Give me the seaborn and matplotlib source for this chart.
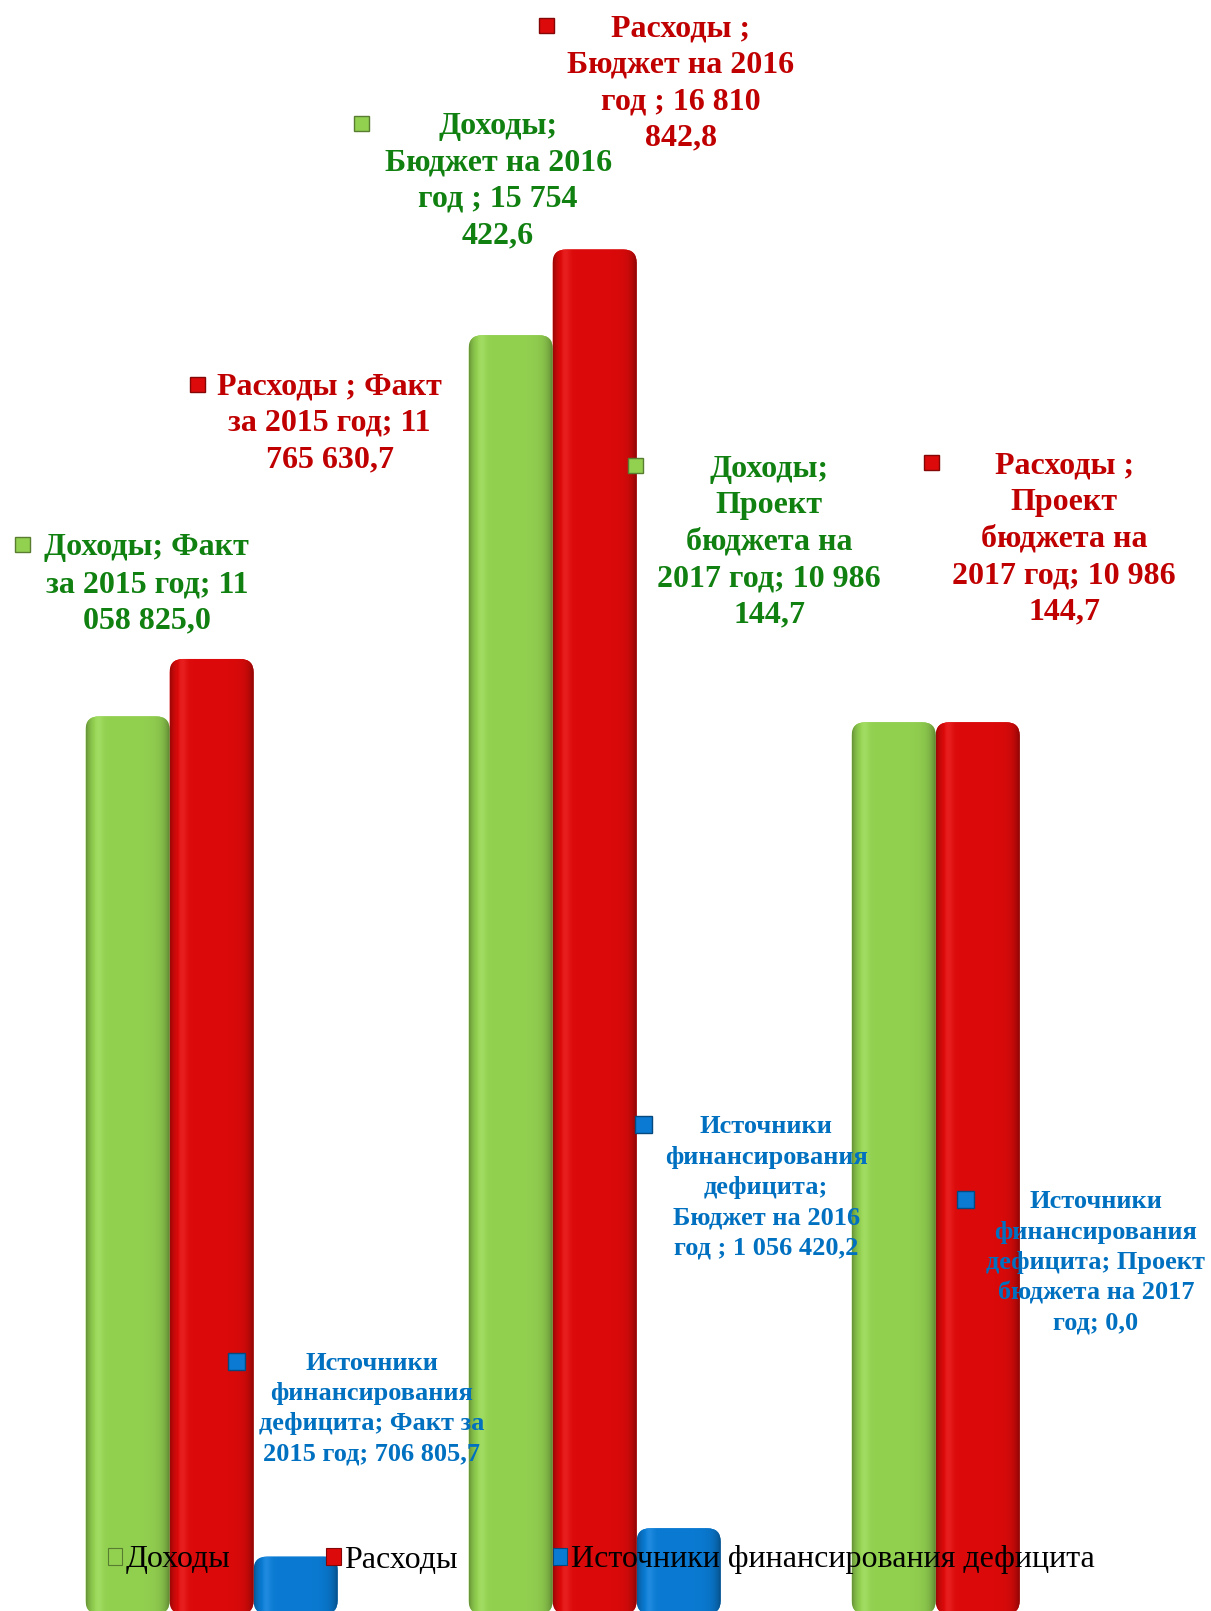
import numpy as np
import pandas as pd
import matplotlib
matplotlib.use("Agg")
import matplotlib.pyplot as plt
import seaborn as sns
from matplotlib.patches import FancyBboxPatch, Rectangle
from matplotlib.colors import to_rgb

# --- data ---
categories = ["Факт за 2015 год", "Бюджет на 2016 год", "Проект бюджета на 2017 год"]
series = ["Доходы", "Расходы", "Источники финансирования дефицита"]
dohody = [11058825.0, 15754422.6, 10986144.7]
rashody = [11765630.7, 16810842.8, 10986144.7]
istochniki = [706805.7, 1056420.2, 0.0]

bar_colors = ["#92D050", "#DC0A0A", "#0A7AD2"]
text_colors = ["#108010", "#C00000", "#0070C0"]

# data label texts, already wrapped the way they appear
label_lines = {
    ("Доходы", 0): ["Доходы; Факт", "за 2015 год; 11", "058 825,0"],
    ("Расходы", 0): ["Расходы ; Факт", "за 2015 год; 11", "765 630,7"],
    ("Доходы", 1): ["Доходы;", "Бюджет на 2016", "год ; 15 754", "422,6"],
    ("Расходы", 1): ["Расходы ;", "Бюджет на 2016", "год ; 16 810", "842,8"],
    ("Доходы", 2): ["Доходы;", "Проект", "бюджета на", "2017 год; 10 986", "144,7"],
    ("Расходы", 2): ["Расходы ;", "Проект", "бюджета на", "2017 год; 10 986", "144,7"],
    ("Источники финансирования дефицита", 0): ["Источники", "финансирования", "дефицита; Факт за", "2015 год; 706 805,7"],
    ("Источники финансирования дефицита", 1): ["Источники", "финансирования", "дефицита;", "Бюджет на 2016", "год ; 1 056 420,2"],
    ("Источники финансирования дефицита", 2): ["Источники", "финансирования", "дефицита; Проект", "бюджета на 2017", "год; 0,0"],
}

df = pd.DataFrame({
    "category": categories * 3,
    "series": [series[0]] * 3 + [series[1]] * 3 + [series[2]] * 3,
    "value": dohody + rashody + istochniki,
})

W, H = 1211, 1611
XLIM = (-0.5525, 2.609)
YLIM = (0.037e6, 19.884e6)

sns.set_style("white")
plt.rcParams["font.family"] = ["Liberation Serif", "DejaVu Serif"]

fig = plt.figure(figsize=(W / 100, H / 100), dpi=100)
ax = fig.add_axes([0, 0, 1, 1])
sns.barplot(data=df, x="category", y="value", hue="series", order=categories,
            hue_order=series, palette=bar_colors, saturation=1, width=0.658,
            ax=ax, legend=False)
ax.axis("off")


def px(x, y):
    # pixel (from top-left) -> figure fraction
    return x / W, 1 - y / H


# horizontal shading across each bar: dark edges, soft highlight on the left
t = np.linspace(0, 1, 200)
prof = (1 - 0.30 * np.exp(-t / 0.05) - 0.45 * np.exp(-(1 - t) / 0.07)
        + 0.06 * np.exp(-((t - 0.13) / 0.07) ** 2))

aspect = ((YLIM[1] - YLIM[0]) / H) / ((XLIM[1] - XLIM[0]) / W)

for cont, col in zip(ax.containers, bar_colors):
    base = np.array(to_rgb(col))
    for rect in cont.patches:
        x0, y0 = rect.get_x(), rect.get_y()
        w, h = rect.get_width(), rect.get_height()
        rect.set_visible(False)
        if h <= 0:
            continue
        rounded = FancyBboxPatch((x0, y0), w, h,
                                 boxstyle="round,pad=0,rounding_size=0.035",
                                 mutation_aspect=aspect, facecolor=col,
                                 edgecolor="none", zorder=2)
        ax.add_patch(rounded)
        img = np.clip(base[None, :] * prof[:, None], 0, 1)
        hl = np.clip(prof - 1, 0, None)[:, None]
        img = np.clip(img + hl * (1 - base[None, :]) * 2, 0, 1)
        im = ax.imshow(img[None, :, :], extent=(x0, x0 + w, y0, y0 + h),
                       aspect="auto", zorder=3, interpolation="bilinear")
        im.set_clip_path(rounded)

ax.set_xlim(*XLIM)
ax.set_ylim(*YLIM)

# --- data labels (marker + text) ---
label_pos = {
    ("Доходы", 0): (22.6, 544.4, 146.9, 548.0),
    ("Расходы", 0): (197.2, 384.1, 329.7, 387.0),
    ("Доходы", 1): (361.5, 123.3, 498.1, 126.3),
    ("Расходы", 1): (546.4, 25.7, 681.0, 28.7),
    ("Доходы", 2): (635.8, 465.3, 769.3, 469.3),
    ("Расходы", 2): (931.6, 462.2, 1064.1, 466.2),
    ("Источники финансирования дефицита", 0): (236.2, 1361.0, 371.8, 1363.0),
    ("Источники финансирования дефицита", 1): (643.0, 1124.7, 766.2, 1126.7),
    ("Источники финансирования дефицита", 2): (965.5, 1199.7, 1095.9, 1201.7),
}

for (ser, ci), lines in label_lines.items():
    si = series.index(ser)
    mx, my, tx, ty = label_pos[(ser, ci)]
    big = si < 2
    fs = 23 if big else 19
    ls = 36.5 if big else 30.4
    ms = 15 if big else 17
    dark = np.array(to_rgb(bar_colors[si])) * 0.6
    fx, fy = px(mx - ms / 2, my + ms / 2)
    fig.add_artist(Rectangle((fx, fy), ms / W, ms / H, transform=fig.transFigure,
                             facecolor=bar_colors[si], edgecolor=dark,
                             linewidth=1.0, zorder=5))
    for i, line in enumerate(lines):
        x, y = px(tx, ty + i * ls)
        fig.text(x, y, line, ha="center", va="center", fontsize=fs,
                 fontweight="bold", color=text_colors[si], zorder=6)

# --- legend ---
handles = [Rectangle((0, 0), 1, 1, facecolor=c,
                     edgecolor=np.array(to_rgb(c)) * 0.6, linewidth=0.8)
           for c in bar_colors]
leg = fig.legend(handles, series, loc="center left", bbox_to_anchor=px(108, 1560),
                 ncol=3, frameon=False, fontsize=23, handlelength=0.45,
                 handleheight=0.45, handletextpad=0.1, columnspacing=3.0,
                 borderaxespad=0, borderpad=0, labelcolor="black")
leg.set_zorder(7)

fig.savefig("out.png", dpi=100)
